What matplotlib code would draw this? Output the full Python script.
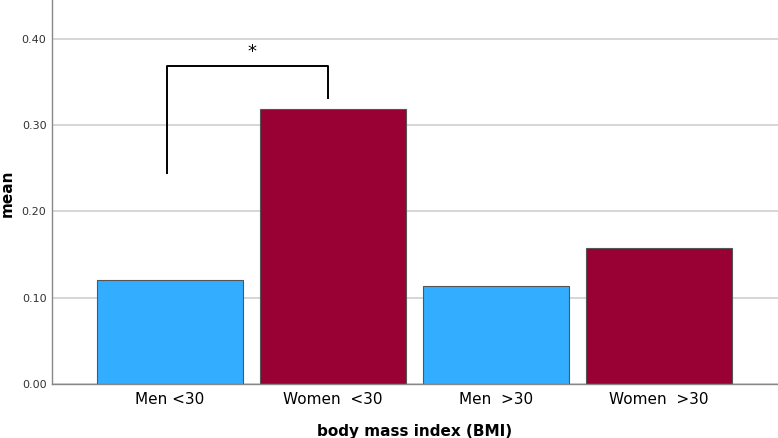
import matplotlib
matplotlib.use('Agg')
import matplotlib.pyplot as plt
import numpy as np

groups = ['Men <30', 'Women  <30', 'Men  >30', 'Women  >30']
means = [0.121, 0.319, 0.114, 0.158]
colors = ['#33adff', '#990033', '#33adff', '#990033']
yticks = [0.0, 0.1, 0.2, 0.3, 0.4]

fig = plt.figure(figsize=(7.78, 4.38), dpi=100)
ax = fig.add_axes([0.0668, 0.1233, 0.9332, 0.8767])

x = np.arange(len(groups))
ax.set_axisbelow(True)
ax.yaxis.grid(True, color='#d0d0d0', linewidth=1.2)
ax.bar(x, means, width=0.9, color=colors, edgecolor='#555555', linewidth=0.8, zorder=2)

ax.set_xlim(-0.724, 3.73)
ax.set_ylim(0, 0.445)
ax.set_yticks(yticks)
ax.set_yticklabels(['%.2f' % v for v in yticks], fontsize=8, color='#333333')
ax.set_xticks(x)
ax.set_xticklabels(groups, fontsize=11)
ax.tick_params(axis='x', length=0, pad=6)
ax.tick_params(axis='y', length=0, pad=4)

for s in ['top', 'right']:
    ax.spines[s].set_visible(False)
for s in ['left', 'bottom']:
    ax.spines[s].set_color('#888888')
    ax.spines[s].set_linewidth(1.0)

ax.set_ylabel('mean', fontsize=11, fontweight='bold')
ax.yaxis.label.set_va('center')
ax.yaxis.set_label_coords(-0.061, 0.497)
ax.set_xlabel('body mass index (BMI)', fontsize=11, fontweight='bold', labelpad=12)

# significance bracket
ax.plot([-0.02, -0.02, 0.97, 0.97], [0.244, 0.369, 0.369, 0.331], color='black', linewidth=1.4, zorder=3)
ax.text(0.5, 0.385, '*', ha='center', va='center', fontsize=13)

fig.savefig('out.png', dpi=100)
